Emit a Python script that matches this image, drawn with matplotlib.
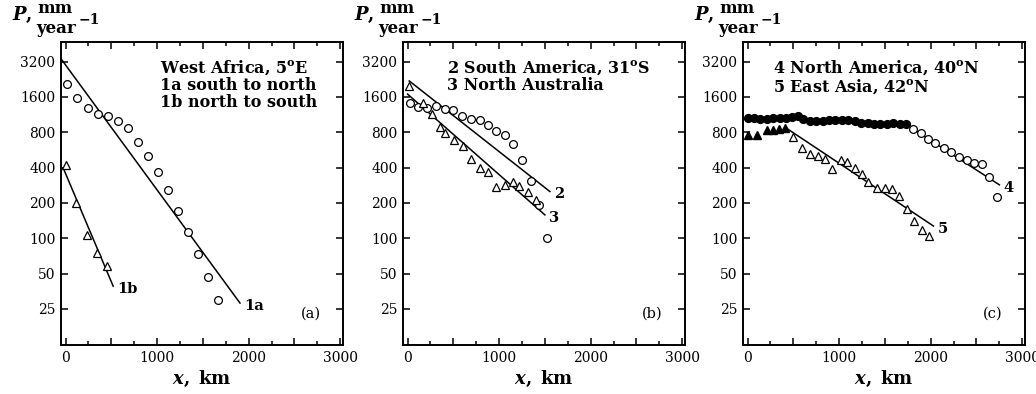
import matplotlib
matplotlib.use("Agg")
import matplotlib.pyplot as plt
from matplotlib.ticker import FixedLocator, NullLocator, FixedFormatter, MultipleLocator, FuncFormatter

plt.rcParams['font.family'] = 'DejaVu Serif'
plt.rcParams['mathtext.fontset'] = 'dejavuserif'

# panel (a): West Africa
x1a = [20, 130, 240, 350, 460, 570, 680, 790, 895, 1005, 1115, 1225, 1335, 1445, 1555, 1665]
P1a = [2050, 1560, 1280, 1150, 1090, 1000, 865, 665, 505, 370, 258, 172, 114, 73, 47, 30]
fit1a_x = [-40, 1905]
fit1a_P = [3300, 28]
x1b = [10, 115, 230, 340, 450]
P1b = [420, 200, 107, 75, 58]
fit1b_x = [-25, 520]
fit1b_P = [395, 39]

# panel (b): South America, North Australia
x2 = [25, 118, 214, 311, 404, 500, 593, 689, 786, 875, 971, 1061, 1154, 1250, 1343, 1439, 1525]
P2 = [1410, 1310, 1280, 1330, 1255, 1240, 1090, 1035, 1020, 925, 820, 755, 635, 465, 310, 190, 101]
fit2_x = [18, 1554]
fit2_P = [2190, 250]
x3 = [18, 171, 268, 357, 411, 511, 600, 696, 786, 882, 971, 1064, 1150, 1221, 1311, 1400]
P3 = [1985, 1430, 1140, 895, 785, 690, 612, 472, 395, 370, 275, 285, 300, 280, 250, 211]
fit3_x = [0, 1500]
fit3_P = [1690, 158]

# panel (c): North America, East Asia
x4f = [0, 70, 140, 210, 280, 350, 420, 490, 550, 610, 680, 750, 820, 890, 960, 1030,
       1100, 1170, 1240, 1310, 1380, 1450, 1520, 1590, 1660, 1730]
P4f = [1050, 1050, 1040, 1040, 1050, 1060, 1060, 1070, 1110, 1030, 1000, 990, 990, 1010, 1020, 1020,
       1010, 990, 960, 950, 945, 945, 945, 950, 945, 940]
x4o = [1810, 1895, 1975, 2050, 2140, 2220, 2305, 2395, 2475, 2555, 2640, 2720]
P4o = [850, 785, 700, 645, 585, 540, 495, 465, 440, 430, 330, 224]
fit4_x = [1790, 2750]
fit4_P = [870, 285]
x5f = [0, 100, 210, 280, 340, 410]
P5f = [760, 760, 830, 835, 850, 870]
x5o = [499, 590, 681, 772, 845, 918, 1016, 1089, 1173, 1246, 1319, 1410, 1501, 1574, 1654, 1738, 1822, 1902, 1982]
P5o = [735, 585, 523, 497, 472, 387, 466, 442, 395, 353, 303, 267, 267, 262, 227, 177, 140, 118, 104]
fit5_x = [430, 2030]
fit5_P = [860, 127]

yticks = [25, 50, 100, 200, 400, 800, 1600, 3200]

fig = plt.figure(figsize=(10.36, 3.94), dpi=100)
lefts = [61 / 1036, 403 / 1036, 743 / 1036]
axes = [fig.add_axes([l, 0.1244, 0.2722, 0.769]) for l in lefts]

circ = dict(ls='none', marker='o', ms=5.6, mfc='white', mec='black', mew=0.9)
tri = dict(ls='none', marker='^', ms=6.2, mfc='white', mec='black', mew=0.9)
fit = dict(color='black', lw=1.1)
note = dict(ha='left', va='top', fontsize=11.5, fontweight='bold', linespacing=0.98)


def lab(ax, x, y, s):
    ax.annotate(s, (x, y), xytext=(3, -2), textcoords='offset points',
                ha='left', va='center', fontsize=10.5, fontweight='bold')


ax = axes[0]
ax.plot(fit1a_x, fit1a_P, **fit)
ax.plot(fit1b_x, fit1b_P, **fit)
ax.plot(x1a, P1a, **circ)
ax.plot(x1b, P1b, **tri)
lab(ax, fit1a_x[-1], fit1a_P[-1], '1a')
lab(ax, fit1b_x[-1], fit1b_P[-1], '1b')
ax.text(0.35, 0.945, 'West Africa, 5$^\\mathbf{o}$E\n1a south to north\n1b north to south',
        transform=ax.transAxes, **note)

ax = axes[1]
ax.plot(fit2_x, fit2_P, **fit)
ax.plot(fit3_x, fit3_P, **fit)
ax.plot(x2, P2, **circ)
ax.plot(x3, P3, **tri)
lab(ax, fit2_x[-1], fit2_P[-1], '2')
lab(ax, fit3_x[-1], fit3_P[-1], '3')
ax.text(0.155, 0.945, '2 South America, 31$^\\mathbf{o}$S\n3 North Australia',
        transform=ax.transAxes, **note)

ax = axes[2]
ax.plot(fit4_x, fit4_P, **fit)
ax.plot(fit5_x, fit5_P, **fit)
ax.plot(x4f, P4f, ls='none', marker='o', ms=5.6, mfc='black', mec='black')
ax.plot(x4o, P4o, **circ)
ax.plot(x5f, P5f, ls='none', marker='^', ms=6.2, mfc='black', mec='black')
ax.plot(x5o, P5o, **tri)
lab(ax, fit4_x[-1], fit4_P[-1], '4')
lab(ax, fit5_x[-1], fit5_P[-1], '5')
ax.text(0.105, 0.945, '4 North America, 40$^\\mathbf{o}$N\n5 East Asia, 42$^\\mathbf{o}$N',
        transform=ax.transAxes, **note)

for ax, tag in zip(axes, ['(a)', '(b)', '(c)']):
    ax.set_yscale('log')
    ax.set_xlim(-50, 3030)
    ax.set_ylim(12.3, 4700)
    ax.yaxis.set_major_locator(FixedLocator(yticks))
    ax.yaxis.set_minor_locator(NullLocator())
    ax.yaxis.set_major_formatter(FixedFormatter([str(t) for t in yticks]))
    ax.xaxis.set_major_locator(MultipleLocator(500))
    ax.xaxis.set_minor_locator(MultipleLocator(250))
    ax.xaxis.set_major_formatter(FuncFormatter(lambda v, p: '%d' % v if v % 1000 == 0 else ''))
    ax.tick_params(which='both', direction='in', top=True, right=True, labelsize=10, width=1.1)
    ax.tick_params(which='major', length=5, pad=4)
    ax.tick_params(which='minor', length=3)
    for s in ax.spines.values():
        s.set_linewidth(1.4)
    ax.text(0.885, 0.105, tag, transform=ax.transAxes, ha='center', va='center', fontsize=10.5)
    ax.set_xlabel(r'$\mathbfit{x}\mathbf{,\ km}$', fontsize=13, labelpad=3)
    # y label: "P," with "mm" stacked over "year^-1"
    ax.text(-0.172, 1.088, r'$\mathbfit{P}\mathbf{,}$', transform=ax.transAxes,
            ha='left', va='center', fontsize=13)
    ax.text(-0.02, 1.112, 'mm', transform=ax.transAxes, ha='center', va='center',
            fontsize=12, fontweight='bold')
    ax.text(-0.088, 1.045, 'year', transform=ax.transAxes, ha='left', va='center',
            fontsize=12, fontweight='bold')
    ax.text(0.062, 1.072, '\u22121', transform=ax.transAxes, ha='left', va='center',
            fontsize=10, fontweight='bold')

plt.savefig('out.png', dpi=100)
